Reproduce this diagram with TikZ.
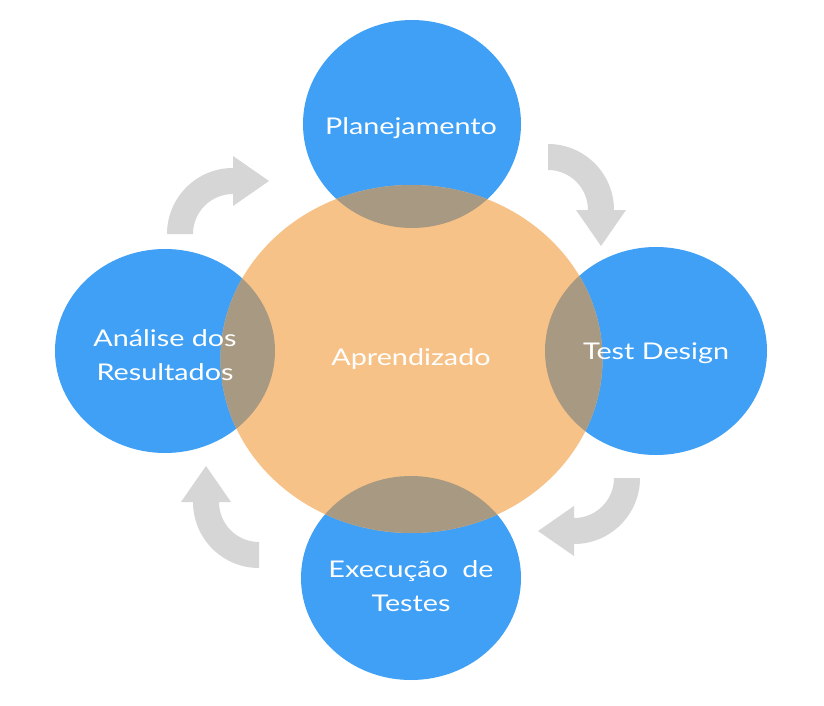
\documentclass[tikz,border=0pt]{standalone}
\usepackage{fontspec}
\setmainfont{Lato}[FakeStretch=1.25]
\definecolor{cblue}{HTML}{3FA0F5}
\definecolor{corange}{HTML}{F7C287}
\definecolor{cmix}{HTML}{A89A82}
\definecolor{cgray}{HTML}{D6D6D6}
\tikzset{
  label/.style={text=white, font=\fontsize{23}{34}\selectfont, align=center, inner sep=0pt},
  cyclearrow/.style={fill=cgray}
}
\newcommand\cycarrow[3]{%
  \begin{scope}[shift={(#1,#2)}, rotate=#3]
    \fill[cyclearrow] (66,0) arc[start angle=0, end angle=90, radius=66]
      -- (0,78) -- (-36,53) -- (0,28) -- (0,40)
      arc[start angle=90, end angle=0, radius=40] -- cycle;
  \end{scope}}
\begin{document}
\begin{tikzpicture}[x=1pt, y=1pt, yscale=-1]
\useasboundingbox (0,0) rectangle (824,706);
\fill[white] (0,0) rectangle (824,706);
% blue circles
\def\topc{(412,124) ellipse[x radius=109, y radius=104]}
\def\rightc{(656,351) ellipse[x radius=111, y radius=104]}
\def\leftc{(165,351) ellipse[x radius=110, y radius=102]}
\def\botc{(411,578) ellipse[x radius=110, y radius=102]}
\def\orangec{(411.5,359) ellipse[x radius=191, y radius=174]}
\fill[cblue] \topc;
\fill[cblue] \rightc;
\fill[cblue] \leftc;
\fill[cblue] \botc;
\fill[corange] \orangec;
\begin{scope}
  \clip \orangec;
  \fill[cmix] \topc;
  \fill[cmix] \rightc;
  \fill[cmix] \leftc;
  \fill[cmix] \botc;
\end{scope}
% arrows
\cycarrow{233}{234}{180}
\cycarrow{548}{210}{270}
\cycarrow{574}{478}{0}
\cycarrow{259}{502}{90}
% labels
\node[label] (plan) at (411,128) {Planejamento};
\node[label] (design) at (656,353) {Test Design};
\node[label] (analise) at (165,355) {Análise dos\\Resultados};
\node[label] (apr) at (411,359) {Aprendizado};
\node[label] (exec) at (411,586) {Execução\hspace{0.3em} de\\Testes};
\end{tikzpicture}
\end{document}
